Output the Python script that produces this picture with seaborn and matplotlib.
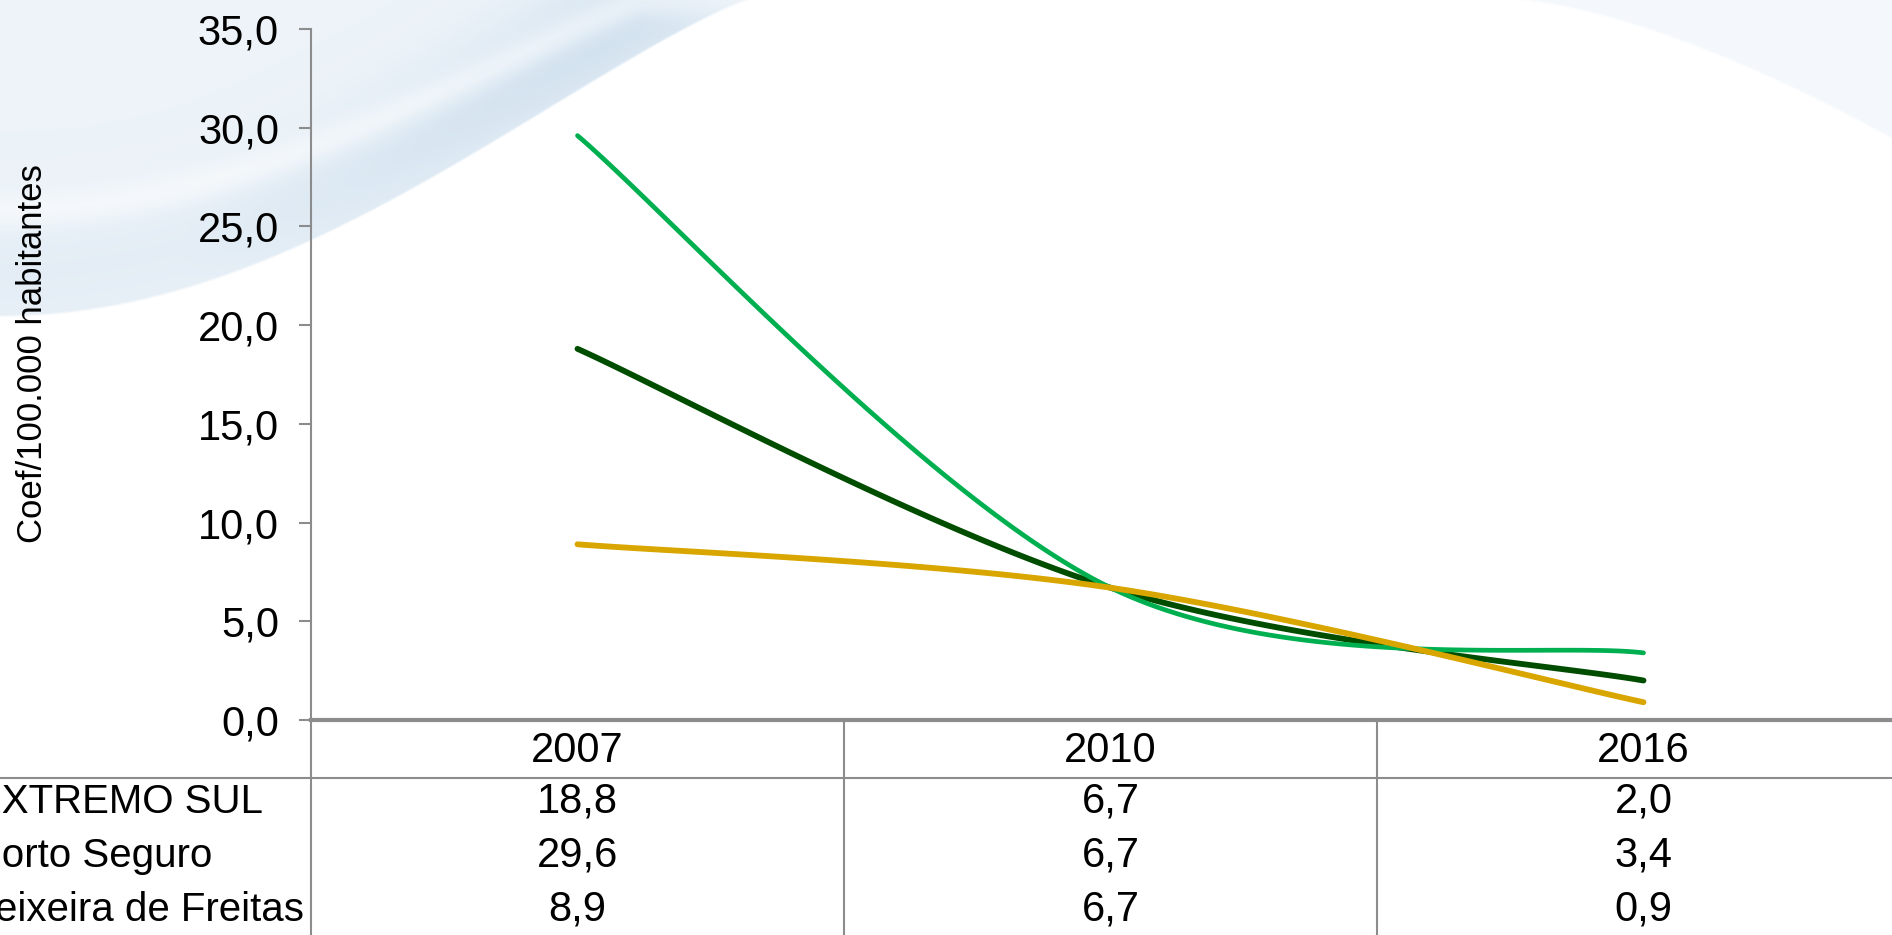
"""Coeficiente por 100.000 habitantes, 2007-2016: smoothed lines with a data table."""

import matplotlib.pyplot as plt
import matplotlib.transforms as mtransforms
from matplotlib.lines import Line2D
import numpy as np
import pandas as pd
import seaborn as sns

YEARS = ["2007", "2010", "2016"]
SERIES = ["EXTREMO SUL", "Porto Seguro", "Teixeira de Freitas"]
EXTREMO_SUL = [18.8, 6.7, 2.0]
PORTO_SEGURO = [29.6, 6.7, 3.4]
TEIXEIRA = [8.9, 6.7, 0.9]
Y_TICKS = [0, 5, 10, 15, 20, 25, 30, 35]

COLORS = {"EXTREMO SUL": "#004d00", "Porto Seguro": "#00b050", "Teixeira de Freitas": "#d9a600"}
WIDTHS = {"EXTREMO SUL": 4.2, "Porto Seguro": 3.4, "Teixeira de Freitas": 4.2}

W, H = 1892, 935
GRID = "#8c8c8c"
FS = 30


def smooth(ys, steps=60):
    """Excel-style smoothed line: cubic Bezier through the points."""
    pts = np.array([[i, y] for i, y in enumerate(ys)], dtype=float)
    n = len(pts)
    out = []
    for i in range(n - 1):
        p_prev = pts[max(i - 1, 0)]
        p0, p1 = pts[i], pts[i + 1]
        p_next = pts[min(i + 2, n - 1)]
        c1 = p0 + (p1 - p_prev) / 6
        c2 = p1 - (p_next - p0) / 6
        t = np.linspace(0, 1, steps)[:, None]
        seg = ((1 - t) ** 3) * p0 + 3 * ((1 - t) ** 2) * t * c1 + 3 * (1 - t) * t ** 2 * c2 + t ** 3 * p1
        out.append(seg if i == 0 else seg[1:])
    return np.vstack(out)


def fx(px):
    return px / W


def fy(py):
    return 1 - py / H


def draw_background(fig):
    """Light blue slide swooshes behind the chart."""
    xx, yy = np.meshgrid(np.arange(W, dtype=float), np.arange(H, dtype=float))
    # top-left swoosh
    u = np.clip(xx / 750, 0, 1)
    yb = np.where(xx < 750, 317 * np.cos(np.pi / 2 * u) ** 1.2, -5)
    d = yb - yy
    inside = np.clip(d / 3, 0, 1)
    band = np.exp(-((d - 45) / 70) ** 2) * np.clip(xx / 600, 0.3, 1.0)
    a = inside * (0.35 + 0.55 * band)
    ys = 210 * np.cos(np.pi / 2 * np.clip(xx / 640, 0, 1)) ** 1.1
    a *= 1 - 0.5 * np.exp(-((yy - ys) / 18) ** 2)
    # top-right area
    v = np.clip((xx - 1511) / 381, 0, None)
    yr = np.where(xx > 1511, 140 * v ** 1.5, -5)
    d2 = yr - yy
    a2 = np.clip(d2 / 3, 0, 1) * 0.35
    c1 = np.array([0.80, 0.87, 0.93])
    c2 = np.array([0.88, 0.93, 0.97])
    img = np.ones((H, W, 3))
    img = img * (1 - a[..., None]) + c1 * a[..., None]
    img = img * (1 - a2[..., None]) + c2 * a2[..., None]
    bg = fig.add_axes([0, 0, 1, 1], zorder=-5)
    bg.imshow(img, extent=(0, W, H, 0), aspect="auto", interpolation="bilinear")
    bg.axis("off")


def main():
    sns.set_style("white")
    plt.rcParams["font.family"] = ["Liberation Sans", "DejaVu Sans"]
    plt.rcParams["text.color"] = "black"
    plt.rcParams["ytick.color"] = "black"

    fig = plt.figure(figsize=(W / 100, H / 100), dpi=100)
    draw_background(fig)

    ax = fig.add_axes([fx(311), fy(720), fx(1599), (720 - 29) / H])
    ax.patch.set_alpha(0)

    frames = []
    for name, vals in zip(SERIES, [EXTREMO_SUL, PORTO_SEGURO, TEIXEIRA]):
        curve = smooth(vals)
        frames.append(pd.DataFrame({"x": curve[:, 0], "y": curve[:, 1], "serie": name}))
    df = pd.concat(frames, ignore_index=True)

    for name in SERIES:
        sns.lineplot(
            data=df[df["serie"] == name], x="x", y="y", sort=False, estimator=None,
            color=COLORS[name], lw=WIDTHS[name], ax=ax, legend=False,
            solid_capstyle="round",
        )

    ax.set_xlim(-0.5, len(YEARS) - 0.5)
    ax.set_ylim(0, 35)
    ax.set_yticks(Y_TICKS)
    ax.set_yticklabels([f"{v:.1f}".replace(".", ",") for v in Y_TICKS], fontsize=FS)
    ax.set_xticks([])
    ax.set_xlabel("")
    ax.set_ylabel("")
    ax.tick_params(axis="y", left=True, length=9, width=1.5, color=GRID, labelcolor="black", pad=14)
    for side in ["top", "right"]:
        ax.spines[side].set_visible(False)
    ax.spines["left"].set_color(GRID)
    ax.spines["left"].set_linewidth(1.5)
    ax.spines["bottom"].set_color(GRID)
    ax.spines["bottom"].set_linewidth(3)

    fig.text(fx(33), fy(354), "Coef/100.000 habitantes", rotation=90,
             ha="center", va="center", fontsize=25, color="black")

    # data table under the chart
    blend = mtransforms.blended_transform_factory(ax.transData, fig.transFigure)
    for i, year in enumerate(YEARS):
        ax.text(i, fy(751), year, transform=blend, fontsize=FS, ha="center", va="center")
    row_y = [802, 856, 910]
    for name, vals, ry in zip(SERIES, [EXTREMO_SUL, PORTO_SEGURO, TEIXEIRA], row_y):
        fig.text(fx(-25), fy(ry), name, fontsize=29, ha="left", va="center")
        for i, v in enumerate(vals):
            ax.text(i, fy(ry), f"{v:.1f}".replace(".", ","), transform=blend,
                    fontsize=FS, ha="center", va="center")

    for b in np.arange(-0.5, len(YEARS) - 0.5, 1.0):
        ax.plot([b, b], [fy(720), 0], transform=blend, color=GRID, lw=1.5, clip_on=False)
    fig.add_artist(Line2D([0, 1], [fy(778), fy(778)], color=GRID, lw=1.5))

    fig.savefig("out.png", dpi=100)
    plt.close(fig)


if __name__ == "__main__":
    main()
